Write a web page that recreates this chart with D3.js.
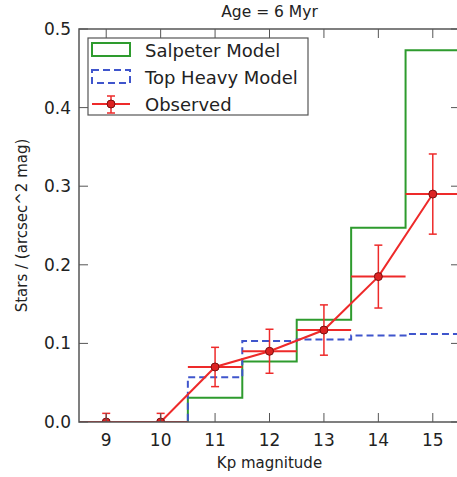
<!DOCTYPE html>
<html>
<head>
<meta charset="utf-8">
<script src="https://cdn.jsdelivr.net/npm/d3@7"></script>
<style>
  body { margin: 0; background: #fff; }
  svg { display: block; font-family: "DejaVu Sans", sans-serif; }
</style>
</head>
<body>
<svg id="chart" width="457" height="477"></svg>
<script>
// bin edges for the model histograms
const binEdges = [8.5, 9.5, 10.5, 11.5, 12.5, 13.5, 14.5, 15.5];
const salpeter = [0, 0, 0.031, 0.077, 0.130, 0.247, 0.473];
const topHeavy = [0, 0, 0.057, 0.103, 0.105, 0.110, 0.112];

// observed points
const obsMag = [9, 10, 11, 12, 13, 14, 15];
const obsVal = [0, 0, 0.070, 0.090, 0.117, 0.185, 0.290];
const obsErr = [0.011, 0.011, 0.025, 0.028, 0.032, 0.040, 0.051];
const obsXErr = 0.5;

const xTicks = [9, 10, 11, 12, 13, 14, 15];
const yTicks = [0, 0.1, 0.2, 0.3, 0.4, 0.5];

const margin = { top: 29, left: 79, right: -3, bottom: 55 };
const W = 457, H = 477;

const svg = d3.select("#chart");

const x = d3.scaleLinear().domain([8.5, 15.5]).range([margin.left, W - margin.right]);
const y = d3.scaleLinear().domain([0, 0.5]).range([H - margin.bottom, margin.top]);

const spine = "#555";
const tickLen = 9;
const x0 = x.range()[0], x1 = x.range()[1], y0 = y.range()[0], y1 = y.range()[1];

svg.append("clipPath").attr("id", "clip")
  .append("rect").attr("x", x0).attr("y", y1).attr("width", x1 - x0).attr("height", y0 - y1);

const plot = svg.append("g").attr("clip-path", "url(#clip)");

// step outlines
function stepPath(vals) {
  const pts = [];
  pts.push([binEdges[0], 0]);
  vals.forEach((v, i) => {
    pts.push([binEdges[i], v]);
    pts.push([binEdges[i + 1], v]);
  });
  pts.push([binEdges[binEdges.length - 1], 0]);
  return d3.line().x(d => x(d[0])).y(d => y(d[1]))(pts);
}

plot.append("path")
  .attr("d", stepPath(salpeter))
  .attr("fill", "none")
  .attr("stroke", "#2e9b2e")
  .attr("stroke-width", 2);

plot.append("path")
  .attr("d", stepPath(topHeavy))
  .attr("fill", "none")
  .attr("stroke", "#3f55cc")
  .attr("stroke-width", 2)
  .attr("stroke-dasharray", "7,4");

// observed
const red = "#ee2a2a";
const obs = obsMag.map((m, i) => ({ m, v: obsVal[i], e: obsErr[i] }));

plot.append("path")
  .datum(obs)
  .attr("d", d3.line().x(d => x(d.m)).y(d => y(d.v)))
  .attr("fill", "none")
  .attr("stroke", red)
  .attr("stroke-width", 2);

const eb = plot.selectAll(".eb").data(obs).enter().append("g").attr("class", "eb");
eb.append("line")
  .attr("x1", d => x(d.m - obsXErr)).attr("x2", d => x(d.m + obsXErr))
  .attr("y1", d => y(d.v)).attr("y2", d => y(d.v))
  .attr("stroke", red).attr("stroke-width", 2);
eb.append("line")
  .attr("x1", d => x(d.m)).attr("x2", d => x(d.m))
  .attr("y1", d => y(d.v - d.e)).attr("y2", d => y(d.v + d.e))
  .attr("stroke", red).attr("stroke-width", 1.5);
eb.append("line")
  .attr("x1", d => x(d.m) - 4).attr("x2", d => x(d.m) + 4)
  .attr("y1", d => y(d.v + d.e)).attr("y2", d => y(d.v + d.e))
  .attr("stroke", red).attr("stroke-width", 1.5);
eb.append("line")
  .attr("x1", d => x(d.m) - 4).attr("x2", d => x(d.m) + 4)
  .attr("y1", d => y(d.v - d.e)).attr("y2", d => y(d.v - d.e))
  .attr("stroke", red).attr("stroke-width", 1.5);
eb.append("circle")
  .attr("cx", d => x(d.m)).attr("cy", d => y(d.v)).attr("r", 4)
  .attr("fill", "#dd2222").attr("stroke", "#7a1010").attr("stroke-width", 1);

// axes box and inward ticks
svg.append("rect")
  .attr("x", x0).attr("y", y1).attr("width", x1 - x0).attr("height", y0 - y1)
  .attr("fill", "none").attr("stroke", spine).attr("stroke-width", 1.5);

const ticks = svg.append("g").attr("stroke", spine).attr("stroke-width", 1);
xTicks.forEach(t => {
  ticks.append("line").attr("x1", x(t)).attr("x2", x(t)).attr("y1", y0).attr("y2", y0 - tickLen);
  ticks.append("line").attr("x1", x(t)).attr("x2", x(t)).attr("y1", y1).attr("y2", y1 + tickLen);
});
yTicks.forEach(t => {
  ticks.append("line").attr("x1", x0).attr("x2", x0 + tickLen).attr("y1", y(t)).attr("y2", y(t));
  ticks.append("line").attr("x1", x1).attr("x2", x1 - tickLen).attr("y1", y(t)).attr("y2", y(t));
});

svg.append("g").selectAll("text").data(xTicks).enter().append("text")
  .attr("x", d => x(d)).attr("y", y0 + 24)
  .attr("text-anchor", "middle").attr("font-size", 17).attr("fill", "#222")
  .text(d => d);
svg.append("g").selectAll("text").data(yTicks).enter().append("text")
  .attr("x", x0 - 8).attr("y", d => y(d) + 6)
  .attr("text-anchor", "end").attr("font-size", 17).attr("fill", "#222")
  .text(d => d.toFixed(1));

// labels
svg.append("text").attr("x", (x0 + x1) / 2).attr("y", 17)
  .attr("text-anchor", "middle").attr("font-size", 15.5).attr("fill", "#222")
  .text("Age = 6 Myr");
svg.append("text").attr("x", (x0 + x1) / 2).attr("y", 468)
  .attr("text-anchor", "middle").attr("font-size", 15).attr("fill", "#222")
  .text("Kp magnitude");
svg.append("text")
  .attr("transform", `translate(27,${(y0 + y1) / 2}) rotate(-90)`)
  .attr("text-anchor", "middle").attr("font-size", 15).attr("fill", "#222")
  .text("Stars / (arcsec^2 mag)");

// legend
const lg = svg.append("g").attr("transform", "translate(88,38)");
lg.append("rect").attr("width", 220).attr("height", 77)
  .attr("fill", "#fff").attr("stroke", spine).attr("stroke-width", 1.2);
lg.append("rect").attr("x", 4).attr("y", 5).attr("width", 38).attr("height", 13)
  .attr("fill", "none").attr("stroke", "#2e9b2e").attr("stroke-width", 2);
lg.append("rect").attr("x", 4).attr("y", 32).attr("width", 38).attr("height", 13)
  .attr("fill", "none").attr("stroke", "#3f55cc").attr("stroke-width", 2)
  .attr("stroke-dasharray", "7,4");
lg.append("line").attr("x1", 4).attr("x2", 42).attr("y1", 66).attr("y2", 66)
  .attr("stroke", red).attr("stroke-width", 2);
lg.append("line").attr("x1", 23).attr("x2", 23).attr("y1", 58).attr("y2", 75)
  .attr("stroke", red).attr("stroke-width", 1.5);
lg.append("line").attr("x1", 19).attr("x2", 27).attr("y1", 58).attr("y2", 58)
  .attr("stroke", red).attr("stroke-width", 1.5);
lg.append("line").attr("x1", 19).attr("x2", 27).attr("y1", 75).attr("y2", 75)
  .attr("stroke", red).attr("stroke-width", 1.5);
lg.append("circle").attr("cx", 23).attr("cy", 66).attr("r", 4)
  .attr("fill", "#dd2222").attr("stroke", "#7a1010");
["Salpeter Model", "Top Heavy Model", "Observed"].forEach((t, i) => {
  lg.append("text").attr("x", 57).attr("y", 19 + i * 27)
    .attr("font-size", 18).attr("fill", "#222").text(t);
});
</script>
</body>
</html>
